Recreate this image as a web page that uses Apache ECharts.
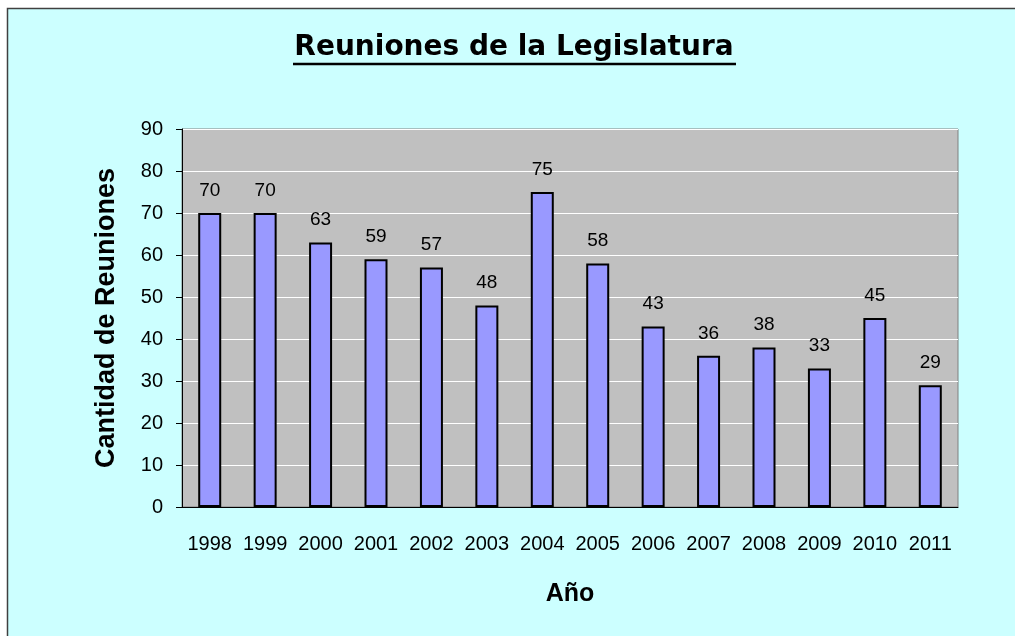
<!DOCTYPE html>
<html>
<head>
<meta charset="utf-8">
<script src="https://cdn.jsdelivr.net/npm/echarts@6/dist/echarts.min.js"></script>
<style>
  html, body { margin: 0; padding: 0; background: #fff; }
  #main { width: 1015px; height: 636px; }
</style>
</head>
<body>
<div id="main"></div>
<script>
  // datos
  var years = ["1998", "1999", "2000", "2001", "2002", "2003", "2004", "2005", "2006", "2007", "2008", "2009", "2010", "2011"];
  var reuniones = [70, 70, 63, 59, 57, 48, 75, 58, 43, 36, 38, 33, 45, 29];
  var yTicks = [0, 10, 20, 30, 40, 50, 60, 70, 80, 90];

  var arial = "'Liberation Sans', Arial, sans-serif";

  var chart = echarts.init(document.getElementById("main"));

  chart.setOption({
    backgroundColor: "#ffffff",
    animation: false,
    graphic: [
      {
        type: "rect",
        z: -10,
        shape: { x: 7.5, y: 8.5, width: 1012, height: 632 },
        style: { fill: "#CCFFFF", stroke: "#404040", lineWidth: 1.5 }
      },
      {
        type: "text",
        x: 514,
        y: 34,
        style: {
          text: "Reuniones de la Legislatura",
          font: "bold 28px 'DejaVu Sans', Verdana, sans-serif",
          fill: "#000",
          align: "center"
        }
      },
      {
        type: "line",
        shape: { x1: 293, y1: 64, x2: 736, y2: 64 },
        style: { stroke: "#000", lineWidth: 2.5 }
      }
    ],
    grid: {
      left: 182,
      top: 129,
      width: 776,
      height: 378,
      show: true,
      backgroundColor: "#C0C0C0",
      borderColor: "#808080",
      borderWidth: 1
    },
    xAxis: {
      type: "category",
      data: years,
      name: "Año",
      nameLocation: "middle",
      nameGap: 75,
      nameTextStyle: { fontFamily: arial, fontWeight: "bold", fontSize: 25, color: "#000" },
      axisLine: { lineStyle: { color: "#000", width: 1 } },
      axisTick: { length: 6, lineStyle: { color: "#000" } },
      axisLabel: { fontFamily: arial, fontSize: 20, color: "#000", margin: 27, interval: 0 }
    },
    yAxis: {
      type: "value",
      min: yTicks[0],
      max: yTicks[yTicks.length - 1],
      interval: 10,
      name: "Cantidad de Reuniones",
      nameLocation: "middle",
      nameGap: 62,
      nameTextStyle: { fontFamily: arial, fontWeight: "bold", fontSize: 27, color: "#000" },
      axisLine: { show: true, lineStyle: { color: "#000", width: 1 } },
      axisTick: { show: true, length: 6, lineStyle: { color: "#000" } },
      axisLabel: { fontFamily: arial, fontSize: 20, color: "#000", margin: 19 },
      splitLine: { lineStyle: { color: "#ffffff", width: 1 } }
    },
    series: [
      {
        type: "bar",
        data: reuniones,
        barWidth: 23,
        itemStyle: { color: "#9999FF", borderColor: "#000", borderWidth: 2 },
        label: {
          show: true,
          position: "top",
          distance: 13,
          fontFamily: arial,
          fontSize: 19,
          color: "#000"
        }
      }
    ]
  });
</script>
</body>
</html>
